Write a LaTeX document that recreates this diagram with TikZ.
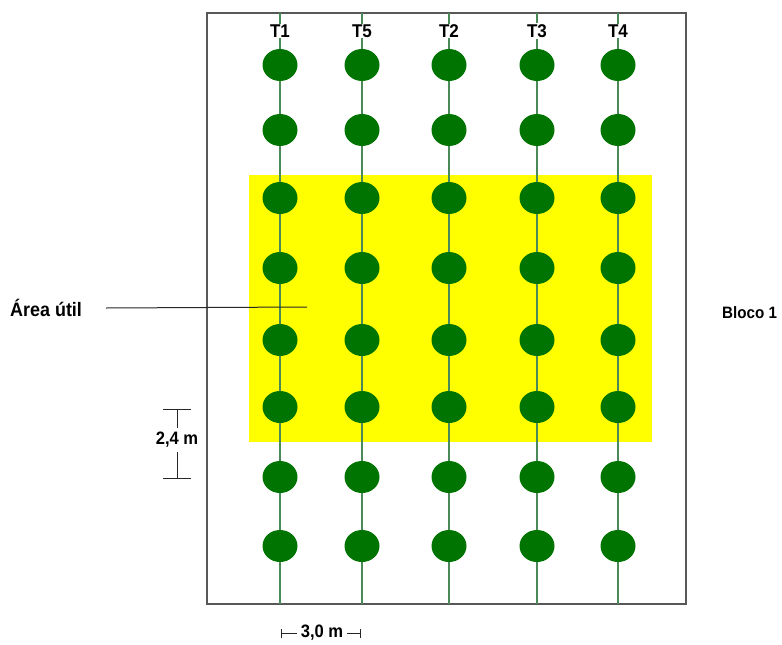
\documentclass[tikz,border=0pt]{standalone}
\usepackage{fontspec}
\setmainfont[FakeStretch=0.92]{Liberation Sans}
\usetikzlibrary{shapes.geometric,positioning,calc}
\definecolor{treegreen}{RGB}{0,116,0}
\definecolor{rowline}{RGB}{74,138,88}
\definecolor{framegray}{RGB}{88,88,88}
\definecolor{usefulyellow}{RGB}{255,255,0}

\begin{document}
\begin{tikzpicture}[
    x=1pt, y=-1pt,
    tree/.style={ellipse, fill=treegreen, inner sep=0pt, minimum width=35pt, minimum height=32pt},
    lbl/.style={font=\fontsize{18}{21}\selectfont\bfseries, inner sep=2pt},
    row/.style={draw=rowline, line width=1.3pt},
    dim/.style={draw=black!85, line width=1pt}
]
    \useasboundingbox (0,0) rectangle (782,645);

    % Useful area
    \fill[usefulyellow] (249,175) rectangle (652,442);

    % Plot frame
    \draw[framegray, line width=2pt] (207,13) rectangle (686,604);

    % Rows with trees, one per treatment
    \foreach \t/\x in {1/280, 5/362, 2/449, 3/537, 4/618} {
        \coordinate (top\t) at (\x,13);
        \coordinate (bot\t) at (\x,604);
        \draw[row] (top\t) -- (bot\t);
        \node[lbl, fill=white, inner sep=1pt, font=\fontsize{18.5}{21}\selectfont\bfseries] (T\t) at (\x,31) {T\t};
        \foreach \y [count=\r] in {65,130,198,268,340,407,477,546}
            \node[tree] (p\t-\r) at (\x,\y) {};
    }

    % Labels outside the plot
    \node[lbl, anchor=west, font=\fontsize{19.5}{22}\selectfont\bfseries] (util) at (8,308) {Área útil};
    \coordinate (utilend) at (307,307);
    \draw[dim] ($(util.east)+(22,0)$) -- (utilend);
    \node[lbl, anchor=west, font=\fontsize{16.5}{19}\selectfont\bfseries] (bloco) at (720,313) {Bloco 1};

    % Row spacing
    \node[lbl, inner sep=4pt] (dimv) at (177,440) {2,4 m};
    \coordinate (dimvtop) at (177,409);
    \coordinate (dimvbot) at (177,478);
    \draw[dim] (dimvtop) -- (dimv.north);
    \draw[dim] (dimv.south) -- (dimvbot);
    \draw[dim] ([xshift=-14pt]dimvtop) -- ([xshift=14pt]dimvtop);
    \draw[dim] ([xshift=-14pt]dimvbot) -- ([xshift=14pt]dimvbot);

    % Column spacing
    \node[lbl, inner sep=4pt] (dimh) at (322,633) {3,0 m};
    \coordinate (dimhl) at (281,633);
    \coordinate (dimhr) at (360,633);
    \draw[dim] (dimhl) -- (dimh.west);
    \draw[dim] (dimh.east) -- (dimhr);
    \draw[dim] ([yshift=-5pt]dimhl) -- ([yshift=4pt]dimhl);
    \draw[dim] ([yshift=-5pt]dimhr) -- ([yshift=4pt]dimhr);
\end{tikzpicture}
\end{document}
